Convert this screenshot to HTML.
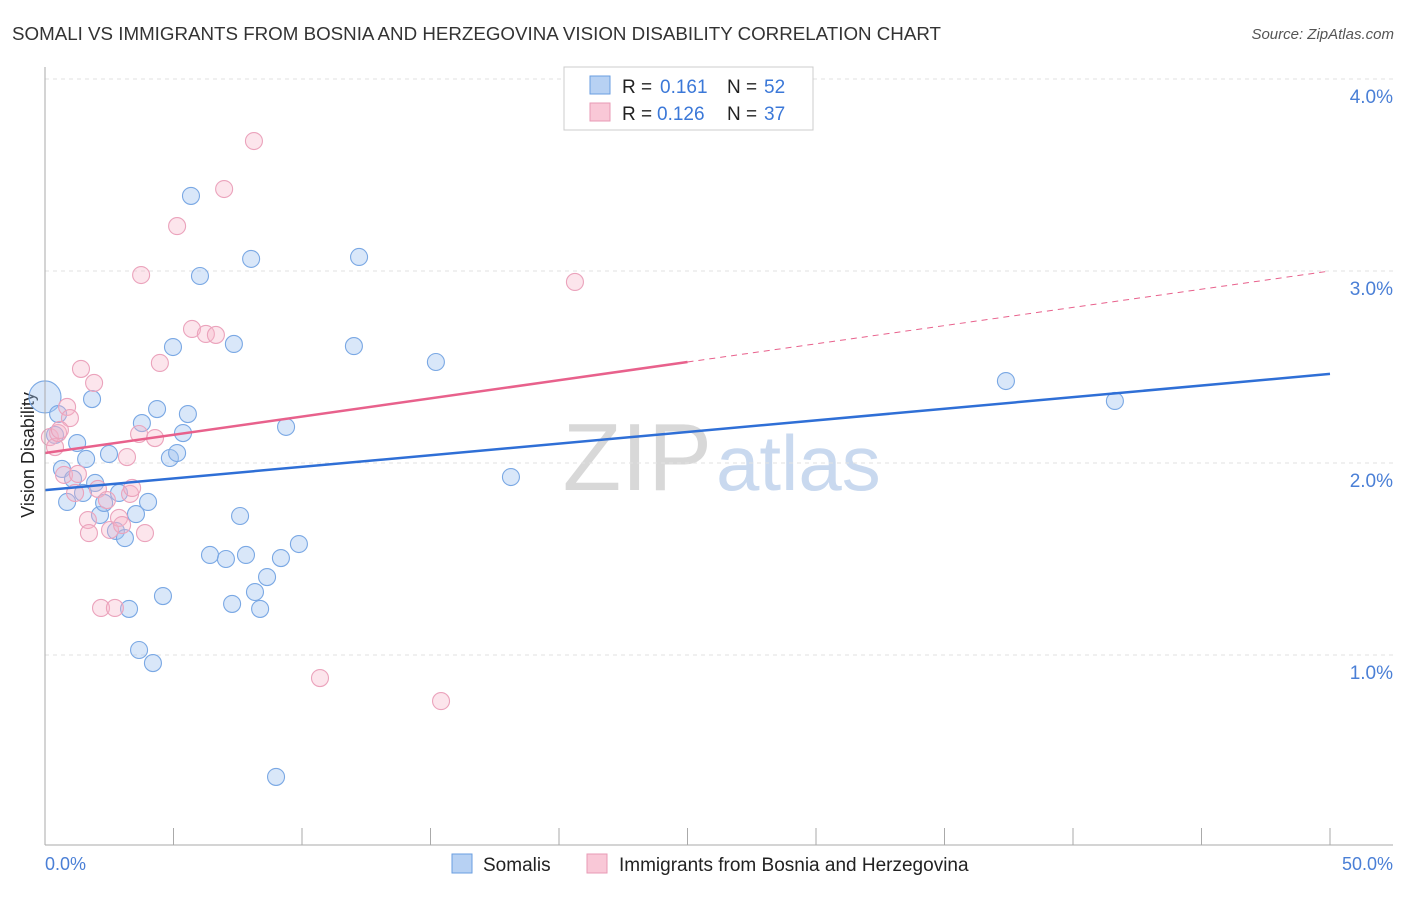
<!DOCTYPE html>
<html><head><meta charset="utf-8"><style>
body{margin:0;background:#fff;font-family:"Liberation Sans",sans-serif}
svg text{font-family:"Liberation Sans",sans-serif}
</style></head><body>
<svg width="1406" height="892" id="c">
<text x="12" y="40" font-size="18" fill="#333" textLength="929" lengthAdjust="spacingAndGlyphs">SOMALI VS IMMIGRANTS FROM BOSNIA AND HERZEGOVINA VISION DISABILITY CORRELATION CHART</text>
<text x="1394" y="39" font-size="15" fill="#555" font-style="italic" text-anchor="end">Source: ZipAtlas.com</text>
<text x="712" y="490" font-size="96" fill="#d8d8d8" font-family="Liberation Serif" text-anchor="end">ZIP</text>
<text x="716" y="490" font-size="78" fill="#c9d9ef">atlas</text>
<text x="34" y="455" font-size="18" fill="#222" text-anchor="middle" transform="rotate(-90 34 455)">Vision Disability</text>
<g id="grid"></g><g id="marks"></g>
<line x1="45" y1="67" x2="45" y2="845" stroke="#aaa"/>
<line x1="45" y1="845" x2="1393" y2="845" stroke="#aaa"/>
<text x="45" y="870" font-size="18" fill="#4a7fd6">0.0%</text>
<text x="1393" y="870" font-size="18" fill="#4a7fd6" text-anchor="end">50.0%</text>
<g>
<rect x="564" y="67" width="249" height="63" fill="#fff" stroke="#ccc"/>
<rect x="590" y="76" width="20" height="18" fill="#b7d1f3" stroke="#6a9ee0"/>
<text x="622" y="93" font-size="19" fill="#222">R =</text>
<text x="660" y="93" font-size="19" fill="#3b78d8">0.161</text>
<text x="727" y="93" font-size="19" fill="#222">N =</text>
<text x="764" y="93" font-size="19" fill="#3b78d8">52</text>
<rect x="590" y="103" width="20" height="18" fill="#f9c8d7" stroke="#e89ab5"/>
<text x="622" y="120" font-size="19" fill="#222">R =</text>
<text x="657" y="120" font-size="19" fill="#3b78d8">0.126</text>
<text x="727" y="120" font-size="19" fill="#222">N =</text>
<text x="764" y="120" font-size="19" fill="#3b78d8">37</text>
</g>
<g>
<rect x="452" y="854" width="20" height="19" fill="#b7d1f3" stroke="#6a9ee0"/>
<text x="483" y="871" font-size="19" fill="#222">Somalis</text>
<rect x="587" y="854" width="20" height="19" fill="#f9c8d7" stroke="#e89ab5"/>
<text x="619" y="871" font-size="19" fill="#222">Immigrants from Bosnia and Herzegovina</text>
</g>
</svg>
<script>
const yTicks=[1,2,3,4];
const xTicks=[0,5,10,15,20,25,30,35,40,45,50];
const blueX=[0,0.51,0.66,0.86,1.09,1.25,1.48,1.60,1.83,1.95,2.14,2.30,2.49,2.76,2.88,3.11,3.27,3.54,3.66,3.77,4.01,4.20,4.36,4.59,4.86,4.98,5.14,5.37,5.56,5.68,6.03,6.42,7.04,7.28,7.35,7.59,7.82,8.02,8.17,8.37,8.64,8.99,9.18,9.38,9.88,12.02,12.22,15.21,18.13,37.39,41.63,0.39];
const blueY=[2.344,2.255,1.969,1.797,1.917,2.104,1.844,2.021,2.333,1.896,1.729,1.792,2.047,1.646,1.844,1.609,1.240,1.734,1.026,2.208,1.797,0.958,2.281,1.307,2.026,2.604,2.052,2.156,2.255,3.391,2.974,1.521,1.500,1.266,2.620,1.724,1.521,3.063,1.328,1.240,1.406,0.365,1.505,2.188,1.578,2.609,3.073,2.526,1.927,2.427,2.323,2.146];
const pinkX=[0.19,0.39,0.51,0.74,0.86,0.97,1.17,1.28,1.40,1.67,1.71,1.91,2.06,2.18,2.41,2.53,2.72,2.88,3.00,3.19,3.31,3.39,3.74,3.66,3.89,4.28,4.47,5.14,5.72,6.26,6.65,6.97,8.13,10.70,15.41,20.62,0.58];
const pinkY=[2.135,2.083,2.156,1.938,2.292,2.234,1.844,1.943,2.490,1.703,1.635,2.417,1.865,1.245,1.807,1.651,1.245,1.714,1.677,2.031,1.839,1.870,2.979,2.151,1.635,2.130,2.521,3.234,2.698,2.672,2.667,3.427,3.677,0.880,0.760,2.943,2.172];
const blueTrend=[1.859,2.464];
const pinkTrend=[2.052,3.0];
const pinkSolidEnd=25;
const X=v=>45+v/50*1285, Y=v=>847-v*192;
const NS='http://www.w3.org/2000/svg';
const grid=document.getElementById('grid'), marks=document.getElementById('marks');
function mk(tag,attrs,parent){const e=document.createElementNS(NS,tag);for(const k in attrs)e.setAttribute(k,attrs[k]);parent.appendChild(e);return e;}
yTicks.forEach(t=>{
 const l=mk('line',{x1:45,x2:1393,y1:Y(t),y2:Y(t),stroke:'#e2e2e2','stroke-dasharray':'4,4'},grid);
 
 
 const tx=mk('text',{x:1393,y:Y(t)+24,'font-size':19,fill:'#4a7fd6','text-anchor':'end'},grid);
 tx.textContent=t.toFixed(1)+'%';
 
 
});
xTicks.forEach(t=>{
 const l=mk('line',{x1:X(t),x2:X(t),y1:828,y2:845,stroke:'#aaa'},grid);
 
 
});
blueX.forEach((v,i)=>{
 const c=mk('circle',{cx:X(v),cy:Y(blueY[i]),r:i===0?16:8.5,fill:'rgba(160,196,240,0.4)',stroke:'#7aa8e4','stroke-width':1.1},marks);
 
 
});
pinkX.forEach((v,i)=>{
 const c=mk('circle',{cx:X(v),cy:Y(pinkY[i]),r:8.5,fill:'rgba(245,180,200,0.35)',stroke:'#eba3bc','stroke-width':1.1},marks);
 
 
});
const bl=mk('line',{x1:X(0),y1:Y(blueTrend[0]),x2:X(50),y2:Y(blueTrend[1]),stroke:'#2f6fd6','stroke-width':2.5},marks);


const pm=pinkTrend[0]+(pinkTrend[1]-pinkTrend[0])*pinkSolidEnd/50;
const pl=mk('line',{x1:X(0),y1:Y(pinkTrend[0]),x2:X(pinkSolidEnd),y2:Y(pm),stroke:'#e8618c','stroke-width':2.5},marks);


const pd=mk('line',{x1:X(pinkSolidEnd),y1:Y(pm),x2:X(50),y2:Y(pinkTrend[1]),stroke:'#e8618c','stroke-width':1,'stroke-dasharray':'6,5'},marks);


</script>
</body></html>
